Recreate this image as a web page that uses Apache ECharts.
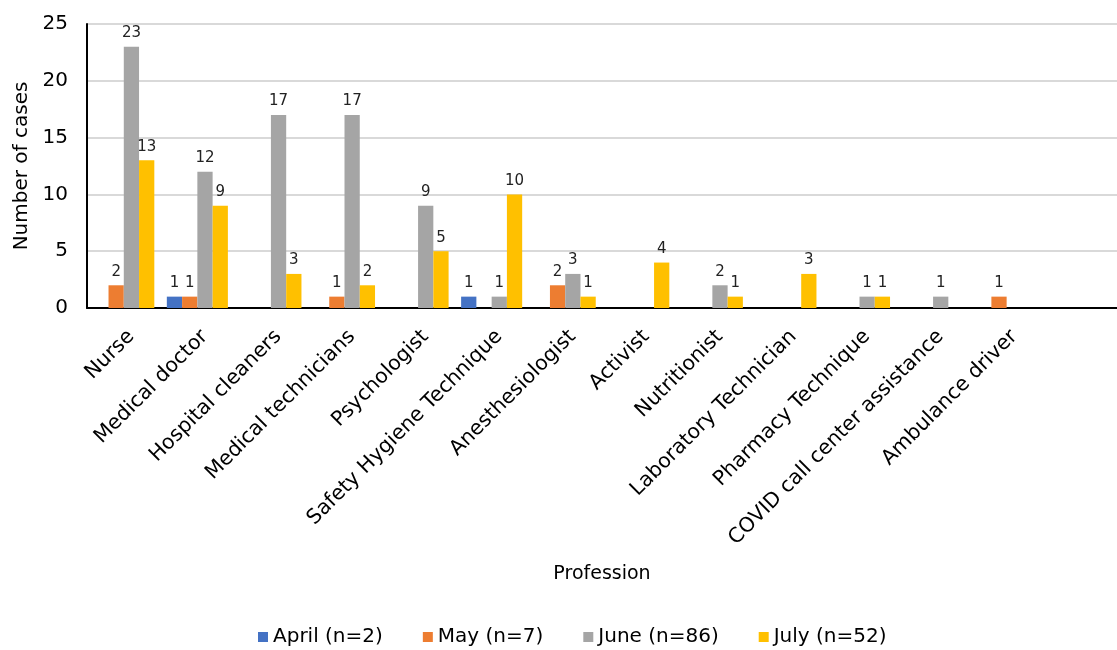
<!DOCTYPE html>
<html>
<head>
<meta charset="utf-8">
<script src="https://cdn.jsdelivr.net/npm/echarts@6/dist/echarts.min.js"></script>
<style>
  html, body { margin: 0; padding: 0; background: #fff; }
  #chart { width: 1117px; height: 650px; }
</style>
</head>
<body>
<div id="chart"></div>
<script>
// Professions (last slot left blank, as on the axis)
const professions = [
  'Nurse', 'Medical doctor', 'Hospital cleaners', 'Medical technicians',
  'Psychologist', 'Safety Hygiene Technique', 'Anesthesiologist', 'Activist',
  'Nutritionist', 'Laboratory Technician', 'Pharmacy Technique',
  'COVID call center assistance', 'Ambulance driver', ''
];
const monthNames = ['April (n=2)', 'May (n=7)', 'June (n=86)', 'July (n=52)'];
const monthColors = ['#4472C4', '#ED7D31', '#A5A5A5', '#FFC000'];

// Cases per profession for each month
const april = [0, 1, 0, 0, 0, 1, 0, 0, 0, 0, 0, 0, 0, 0];
const may   = [2, 1, 0, 1, 0, 0, 2, 0, 0, 0, 0, 0, 1, 0];
const june  = [23, 12, 17, 17, 9, 1, 3, 0, 2, 0, 1, 1, 0, 0];
const july  = [13, 9, 3, 2, 5, 10, 1, 4, 1, 3, 1, 0, 0, 0];

const yTicks = { min: 0, max: 25, interval: 5 };
const FONT = 'DejaVu Sans';

const monthData = [april, may, june, july];

const chart = echarts.init(document.getElementById('chart'), null, { renderer: 'canvas' });

chart.setOption({
  backgroundColor: '#ffffff',
  animation: false,
  textStyle: { fontFamily: FONT, color: '#000' },
  grid: { left: 87, right: -7, top: 24, bottom: 342, containLabel: false },
  legend: {
    top: 622,
    left: 253,
    itemWidth: 10,
    itemHeight: 10,
    itemGap: 40,
    icon: 'rect',
    textStyle: { fontFamily: FONT, fontSize: 20, color: '#000' },
    data: monthNames
  },
  xAxis: {
    type: 'category',
    data: professions,
    name: 'Profession',
    nameLocation: 'middle',
    nameGap: 257,
    nameTextStyle: { fontFamily: FONT, fontSize: 19, color: '#000' },
    axisLine: { show: true, lineStyle: { color: '#000', width: 2 } },
    axisTick: { show: false },
    axisLabel: {
      rotate: 45,
      interval: 0,
      margin: 18,
      verticalAlign: 'top',
      fontFamily: FONT,
      fontSize: 20.5,
      color: '#000'
    },
    splitLine: { show: false }
  },
  yAxis: {
    type: 'value',
    min: yTicks.min,
    max: yTicks.max,
    interval: yTicks.interval,
    name: 'Number of cases',
    nameLocation: 'middle',
    nameGap: 55,
    nameTextStyle: { fontFamily: FONT, fontSize: 20, color: '#000' },
    axisLine: { show: true, lineStyle: { color: '#000', width: 2 } },
    axisTick: { show: false },
    axisLabel: { fontFamily: FONT, fontSize: 20, color: '#000', margin: 19 },
    splitLine: { show: true, lineStyle: { color: '#d9d9d9', width: 2 } }
  },
  series: monthNames.map((name, i) => ({
    name: name,
    type: 'bar',
    data: monthData[i],
    barGap: '0%',
    barCategoryGap: '17%',
    itemStyle: { color: monthColors[i] },
    label: {
      show: true,
      position: 'top',
      distance: 6,
      fontFamily: FONT,
      fontSize: 15,
      color: '#222',
      formatter: p => (p.value > 0 ? String(p.value) : '')
    }
  }))
});
</script>
</body>
</html>
